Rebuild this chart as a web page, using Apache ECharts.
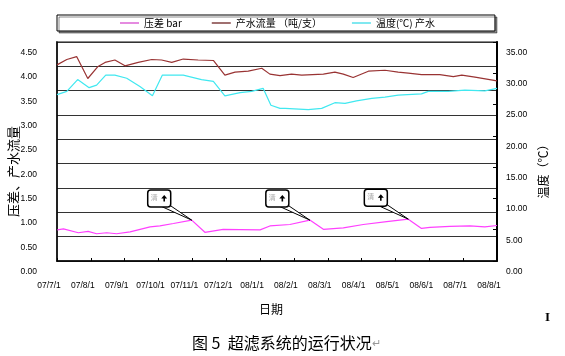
<!DOCTYPE html>
<html><head><meta charset="utf-8">
<script src="https://cdn.jsdelivr.net/npm/echarts@6/dist/echarts.min.js"></script>
<style>html,body{margin:0;padding:0;background:#fff}#c{width:565px;height:356px}</style>
</head><body><div id="c"></div>
<script>
// x tick labels (one per month, x value = months since 2007-07-01)
const xTickLabels = ['07/7/1','07/8/1','07/9/1','07/10/1','07/11/1','07/12/1','08/1/1','08/2/1','08/3/1','08/4/1','08/5/1','08/6/1','08/7/1','08/8/1'];
const seriesNames = ['压差 bar', '产水流量 （吨/支）', '温度(℃) 产水'];

// 压差 bar (left axis)
const pressureMonths = [0.01,0.19,0.63,0.92,1.17,1.47,1.76,2.16,2.75,3.04,3.44,3.98,4.37,4.91,5.41,6.00,6.29,6.88,7.47,7.87,8.46,9.05,9.74,10.38,10.77,11.02,11.61,12.20,12.64,13.0];
const pressure = [0.64,0.66,0.58,0.61,0.56,0.58,0.56,0.60,0.70,0.72,0.77,0.84,0.59,0.65,0.645,0.64,0.72,0.75,0.84,0.65,0.68,0.75,0.81,0.86,0.67,0.69,0.71,0.72,0.70,0.73];

// 产水流量 (left axis)
const flowMonths = [0,0.29,0.58,0.91,1.20,1.42,1.71,2.01,2.40,2.80,3.09,3.39,3.73,4.17,4.62,4.96,5.26,5.65,6.05,6.29,6.59,6.93,7.23,7.87,8.21,8.46,8.75,9.20,9.69,10.08,10.38,10.77,11.31,11.71,11.96,12.35,13.0];
const flow = [4.03,4.14,4.20,3.75,3.99,4.08,4.13,4.01,4.08,4.14,4.13,4.08,4.15,4.13,4.12,3.82,3.88,3.90,3.96,3.84,3.81,3.84,3.82,3.84,3.88,3.84,3.77,3.90,3.92,3.88,3.86,3.83,3.83,3.79,3.82,3.78,3.70];

// 温度 (right axis)
const tempMonths = [0,0.29,0.61,0.95,1.17,1.44,1.71,2.06,2.45,2.82,3.11,3.73,4.27,4.62,4.96,5.41,5.75,6.09,6.32,6.59,6.74,7.42,7.82,8.21,8.51,8.85,9.30,9.69,10.08,10.77,10.97,11.56,12.05,12.64,13.0];
const temp = [26.6,27.1,29.0,27.7,28.1,29.7,29.7,29.2,27.9,26.4,29.7,29.7,29.0,28.7,26.4,26.9,27.1,27.6,24.9,24.4,24.4,24.2,24.4,25.3,25.2,25.6,26.0,26.2,26.5,26.7,27.1,27.1,27.3,27.2,27.6];

// cleaning callouts at these pressure points
const calloutIndex = [11, 18, 23];
const calloutText = '清';

const zip = (xs, ys) => xs.map((x, i) => [x, ys[i]]);
const tickFont = "'Liberation Sans Narrow','Liberation Sans',Arial,sans-serif";
const cjk = "'Noto Sans CJK SC','Noto Sans',sans-serif";
const seriesColors = ['#FF40FF', '#993333', '#40E8F0'];
const legendColors = ['#E58BE0', '#A07070', '#80E8F0'];

const chart = echarts.init(document.getElementById('c'), null, {renderer: 'canvas'});
chart.setOption({
  animation: false,
  backgroundColor: '#fff',
  title: {
    text: '{a|图 5  超滤系统的运行状况}{b|↵}',
    left: 187, top: 330,
    textStyle: {fontWeight: 'normal', rich: {
      a: {fontFamily: cjk, fontSize: 16, color: '#000', fontWeight: 'normal'},
      b: {fontFamily: cjk, fontSize: 11, color: '#999', fontWeight: 'normal'}
    }}
  },
  legend: {
    left: 57, top: 15,
    padding: [3, 60, 3, 63],
    itemGap: 30, itemWidth: 19, itemHeight: 2,
    borderColor: '#000', borderWidth: 1,
    backgroundColor: '#fff',
    shadowColor: 'rgba(0,0,0,0.45)', shadowOffsetX: 2, shadowOffsetY: 2, shadowBlur: 0,
    textStyle: {fontFamily: cjk, fontSize: 10, color: '#000'},
    data: seriesNames.map((n, i) => ({name: n, icon: 'rect', itemStyle: {color: legendColors[i]}}))
  },
  grid: {left: 57, right: 68, top: 42, bottom: 95, show: true, borderColor: '#888', borderWidth: 2,
    backgroundColor: '#fff', containLabel: false, outerBoundsMode: 'none'},
  xAxis: {
    type: 'value', min: 0, max: 13, interval: 1,
    name: '日期', nameLocation: 'middle', nameGap: 42, nameMoveOverlap: false,
    nameTextStyle: {fontFamily: cjk, fontSize: 12, color: '#000', padding: [0, 12, 0, 0]},
    axisLine: {show: true, lineStyle: {color: '#000', width: 1.5}},
    axisTick: {show: true, inside: true, length: 3, lineStyle: {color: '#000'}},
    splitLine: {show: false},
    axisLabel: {margin: 20, padding: [0, 16, 0, 0], fontFamily: tickFont, fontSize: 8.5, color: '#000',
      formatter: v => xTickLabels[Math.round(v)] || ''}
  },
  yAxis: [{
    type: 'value', min: 0, max: 4.5, interval: 0.5,
    name: '压差、产水流量', nameLocation: 'middle', nameRotate: 90, nameGap: 37, nameMoveOverlap: false,
    nameTextStyle: {fontFamily: cjk, fontSize: 13, color: '#000', padding: [0, 40, 0, 0]},
    axisLine: {show: true, lineStyle: {color: '#000', width: 1.5}},
    axisTick: {show: false},
    splitLine: {show: true, lineStyle: {color: '#333', width: 1.2}},
    axisLabel: {margin: 20, verticalAlign: 'top', padding: [6, 0, 0, 0], fontFamily: tickFont, fontSize: 8.5, color: '#000',
      formatter: v => v.toFixed(2)}
  }, {
    type: 'value', min: 0, max: 35, interval: 5, position: 'right',
    name: '温度（℃）', nameLocation: 'middle', nameRotate: 90, nameGap: 40, nameMoveOverlap: false,
    nameTextStyle: {fontFamily: cjk, fontSize: 12, color: '#000', padding: [0, 34, 0, 0]},
    axisLine: {show: true, lineStyle: {color: '#000', width: 2}},
    axisTick: {show: true, inside: true, length: 4, lineStyle: {color: '#000'}},
    splitLine: {show: false},
    axisLabel: {margin: 9, verticalAlign: 'top', padding: [6, 0, 0, 0], fontFamily: tickFont, fontSize: 8.5, color: '#000',
      formatter: v => v.toFixed(2)}
  }],
  series: [{
    name: seriesNames[0], type: 'line', yAxisIndex: 0, symbol: 'none',
    lineStyle: {color: seriesColors[0], width: 1.2}, itemStyle: {color: legendColors[0]},
    data: zip(pressureMonths, pressure)
  }, {
    name: seriesNames[1], type: 'line', yAxisIndex: 0, symbol: 'none',
    lineStyle: {color: seriesColors[1], width: 1.2}, itemStyle: {color: legendColors[1]},
    data: zip(flowMonths, flow)
  }, {
    name: seriesNames[2], type: 'line', yAxisIndex: 1, symbol: 'none',
    lineStyle: {color: seriesColors[2], width: 1.2}, itemStyle: {color: legendColors[2]},
    data: zip(tempMonths, temp)
  }, {
    type: 'custom', yAxisIndex: 0, z: 10, silent: true,
    data: calloutIndex.map(i => [pressureMonths[i], pressure[i]]),
    renderItem: (params, api) => {
      const p = api.coord([api.value(0), api.value(1)]);
      const w = 23, h = 17;
      const bx = p[0] - 44, by = p[1] - 30;
      const ax = bx + 14, ay = by + 5;
      return {type: 'group', children: [
        {type: 'polygon', shape: {points: [[bx + 13, by + h - 1], [bx + 19, by + h - 4], [p[0], p[1]]]},
          style: {fill: '#fff', stroke: '#000', lineWidth: 1}},
        {type: 'rect', shape: {x: bx, y: by, width: w, height: h, r: 3},
          style: {fill: '#fff', stroke: '#000', lineWidth: 1.5}},
        {type: 'text', style: {text: calloutText, x: bx + 3, y: by + 4, fill: '#aaa', font: '7px ' + cjk}},
        {type: 'polygon', shape: {points: [[ax + 2.5, ay], [ax + 5.5, ay + 3.5], [ax + 3.3, ay + 3.5], [ax + 3.3, ay + 6.5], [ax + 1.7, ay + 6.5], [ax + 1.7, ay + 3.5], [ax - 0.5, ay + 3.5]]},
          style: {fill: '#000'}}
      ]};
    }
  }],
  graphic: [{type: 'text', left: 545, top: 311, style: {text: 'I', font: 'bold 13px "Liberation Serif",serif', fill: '#000'}}]
});
</script></body></html>
